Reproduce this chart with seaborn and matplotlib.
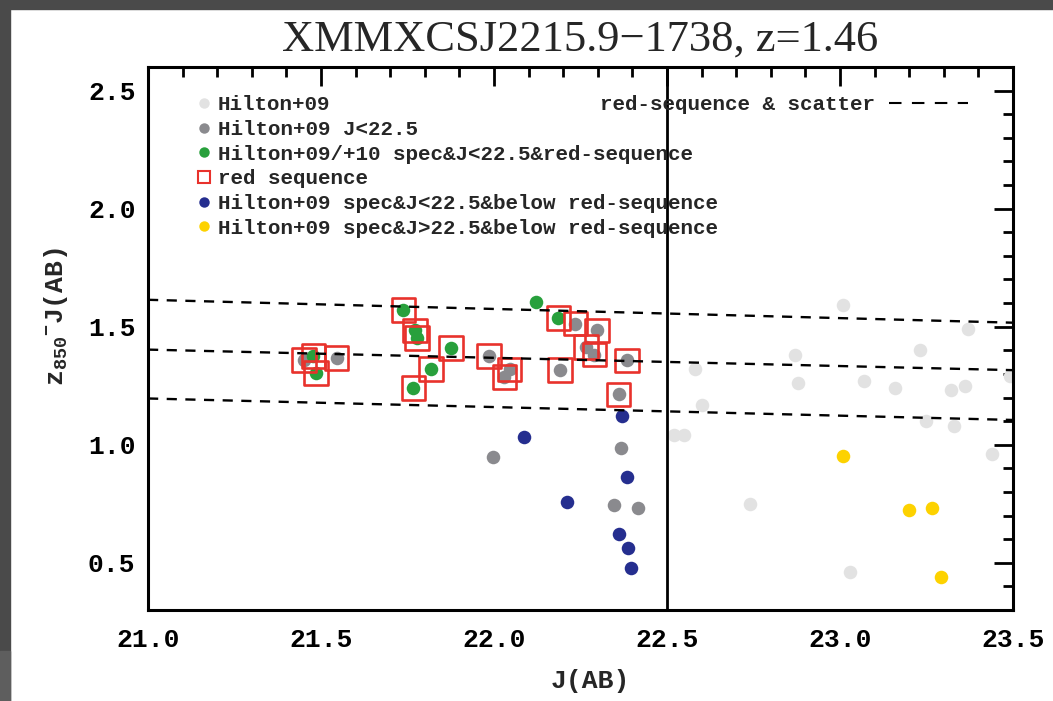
import matplotlib
matplotlib.use('Agg')
import matplotlib.pyplot as plt
import seaborn as sns
import pandas as pd
from matplotlib.lines import Line2D
from matplotlib.patches import Rectangle
from matplotlib.ticker import MultipleLocator

# Hilton+09 (all, J>22.5 visible)
light_j = [23.01, 23.37, 22.87, 23.23, 22.58, 22.88, 23.07, 23.16, 23.32, 23.36,
           23.49, 22.60, 23.25, 23.33, 22.52, 22.55, 23.44, 22.74, 23.03]
light_c = [1.59, 1.49, 1.38, 1.40, 1.32, 1.26, 1.27, 1.24, 1.23, 1.25,
           1.29, 1.17, 1.10, 1.08, 1.04, 1.04, 0.96, 0.75, 0.46]

# Hilton+09 J<22.5
gray_j = [21.45, 21.545, 21.985, 22.03, 22.045, 22.19, 22.235, 22.265, 22.29, 22.297,
          22.385, 22.36, 21.998, 22.367, 22.347, 22.415]
gray_c = [1.358, 1.368, 1.375, 1.288, 1.319, 1.316, 1.513, 1.414, 1.382, 1.484,
          1.357, 1.213, 0.946, 0.985, 0.745, 0.731]

# Hilton+09/+10 spec & J<22.5 & red-sequence
green_j = [21.478, 21.486, 21.738, 21.772, 21.778, 21.875, 21.818, 21.767, 22.12, 22.186]
green_c = [1.375, 1.305, 1.572, 1.484, 1.452, 1.41, 1.32, 1.241, 1.604, 1.537]

# red sequence members (squares)
rs_j = [21.45, 21.545, 21.985, 22.03, 22.045, 22.19, 22.235, 22.265, 22.29, 22.297,
        22.385, 22.36, 21.478, 21.486, 21.738, 21.772, 21.778, 21.875, 21.818, 21.767,
        22.186]
rs_c = [1.358, 1.368, 1.375, 1.288, 1.319, 1.316, 1.513, 1.414, 1.382, 1.484,
        1.357, 1.213, 1.375, 1.305, 1.572, 1.484, 1.452, 1.41, 1.32, 1.241,
        1.537]

# spec & J<22.5 & below red-sequence
blue_j = [22.369, 22.087, 22.385, 22.21, 22.361, 22.386, 22.396]
blue_c = [1.122, 1.033, 0.862, 0.756, 0.622, 0.562, 0.478]

# spec & J>22.5 & below red-sequence
yellow_j = [23.01, 23.2, 23.267, 23.292]
yellow_c = [0.953, 0.725, 0.731, 0.44]

# red-sequence fit and scatter
line_j = [21.0, 23.5]
rs_upper = [1.614, 1.517]
rs_mid = [1.403, 1.316]
rs_lower = [1.196, 1.105]

c_light = '#e2e2e2'
c_gray = '#8a8a8e'
c_green = '#28a03c'
c_red = '#e8322c'
c_blue = '#252e8f'
c_yellow = '#fdd200'

sns.set_style('white')
plt.rcParams['font.family'] = ['Liberation Mono', 'DejaVu Sans']
plt.rcParams['font.weight'] = 'bold'
plt.rcParams['axes.labelweight'] = 'bold'
plt.rcParams['mathtext.fontset'] = 'custom'
plt.rcParams['mathtext.rm'] = 'Liberation Mono:bold'
plt.rcParams['mathtext.default'] = 'regular'

fig = plt.figure(figsize=(10.53, 7.01), dpi=100)
ax = fig.add_axes([0.1406, 0.1298, 0.8214, 0.7746])

# screenshot frame
fig.add_artist(Rectangle((0, 1 - 9 / 701), 1, 9 / 701, transform=fig.transFigure,
                         color='#4a4a4a', zorder=-5))
fig.add_artist(Rectangle((0, 0), 10 / 1053, 1, transform=fig.transFigure,
                         color='#4a4a4a', zorder=-5))
fig.add_artist(Rectangle((0, 0), 10 / 1053, 50 / 701, transform=fig.transFigure,
                         color='#5e5e5e', zorder=-4))

dash = dict(color='black', lw=1.7, dashes=(4.3, 3.6))
ax.plot(line_j, rs_upper, **dash)
ax.plot(line_j, rs_mid, **dash)
ax.plot(line_j, rs_lower, **dash)
ax.axvline(22.5, color='black', lw=2.0)

pt = dict(s=95, linewidth=0, ax=ax, legend=False)
sns.scatterplot(x=light_j, y=light_c, color=c_light, **pt)
sns.scatterplot(x=gray_j, y=gray_c, color=c_gray, **pt)
sns.scatterplot(x=green_j, y=green_c, color=c_green, **pt)
sns.scatterplot(x=rs_j, y=rs_c, marker='s', s=290, facecolor='none',
                edgecolor=c_red, linewidth=1.9, ax=ax, legend=False)
sns.scatterplot(x=blue_j, y=blue_c, color=c_blue, **pt)
sns.scatterplot(x=yellow_j, y=yellow_c, color=c_yellow, **pt)

ax.set_xlim(21.0, 23.5)
ax.set_ylim(0.3, 2.6)
ax.xaxis.set_minor_locator(MultipleLocator(0.1))
ax.yaxis.set_minor_locator(MultipleLocator(0.1))
ax.set_xticks([21.0, 21.5, 22.0, 22.5, 23.0, 23.5])
ax.set_xticklabels(['21.0', '21.5', '22.0', '22.5', '23.0', '23.5'])
ax.set_yticks([0.5, 1.0, 1.5, 2.0, 2.5])
ax.set_yticklabels(['0.5', '1.0', '1.5', '2.0', '2.5'])
ax.tick_params(which='both', direction='in', top=True, right=True, width=2,
               labelsize=19, colors='black')
ax.tick_params(axis='x', which='major', length=14, pad=13)
ax.tick_params(axis='y', which='major', length=14, pad=9)
ax.tick_params(which='minor', length=7)
for sp in ax.spines.values():
    sp.set_linewidth(2.2)
    sp.set_color('black')

ax.set_xlabel('J(AB)', fontsize=19)
ax.xaxis.set_label_coords(0.511, -0.108)
ax.set_ylabel(r'z$_{850}$$^{-}$J(AB)', fontsize=19)
ax.yaxis.set_label_coords(-0.09, 0.541)
ax.set_title('XMMXCSJ2215.9\u22121738, z=1.46', fontsize=32,
             family='Liberation Serif', fontweight='normal', pad=12)

handles = [
    Line2D([], [], ls='none', marker='o', ms=7.5, mfc=c_light, mec='none'),
    Line2D([], [], ls='none', marker='o', ms=7.5, mfc=c_gray, mec='none'),
    Line2D([], [], ls='none', marker='o', ms=7.5, mfc=c_green, mec='none'),
    Line2D([], [], ls='none', marker='s', ms=8, mfc='none', mec=c_red, mew=1.5),
    Line2D([], [], ls='none', marker='o', ms=7.5, mfc=c_blue, mec='none'),
    Line2D([], [], ls='none', marker='o', ms=7.5, mfc=c_yellow, mec='none'),
]
labels = ['Hilton+09', 'Hilton+09 J<22.5',
          'Hilton+09/+10 spec&J<22.5&red-sequence', 'red sequence',
          'Hilton+09 spec&J<22.5&below red-sequence',
          'Hilton+09 spec&J>22.5&below red-sequence']
leg1 = ax.legend(handles, labels, loc='upper left', bbox_to_anchor=(0.048, 0.963),
                 frameon=False, fontsize=15, handlelength=0.6, handletextpad=0.35,
                 labelspacing=0.27, borderaxespad=0)
ax.add_artist(leg1)

rs_handle = Line2D([], [], color='black', lw=1.5, dashes=(6, 5))
ax.legend([rs_handle], ['red-sequence & scatter'], loc='upper right',
          bbox_to_anchor=(0.958, 0.963), frameon=False, fontsize=15,
          markerfirst=False, handlelength=3.8, handletextpad=0.7, borderaxespad=0)

fig.savefig('out.png', dpi=100, facecolor='white')
